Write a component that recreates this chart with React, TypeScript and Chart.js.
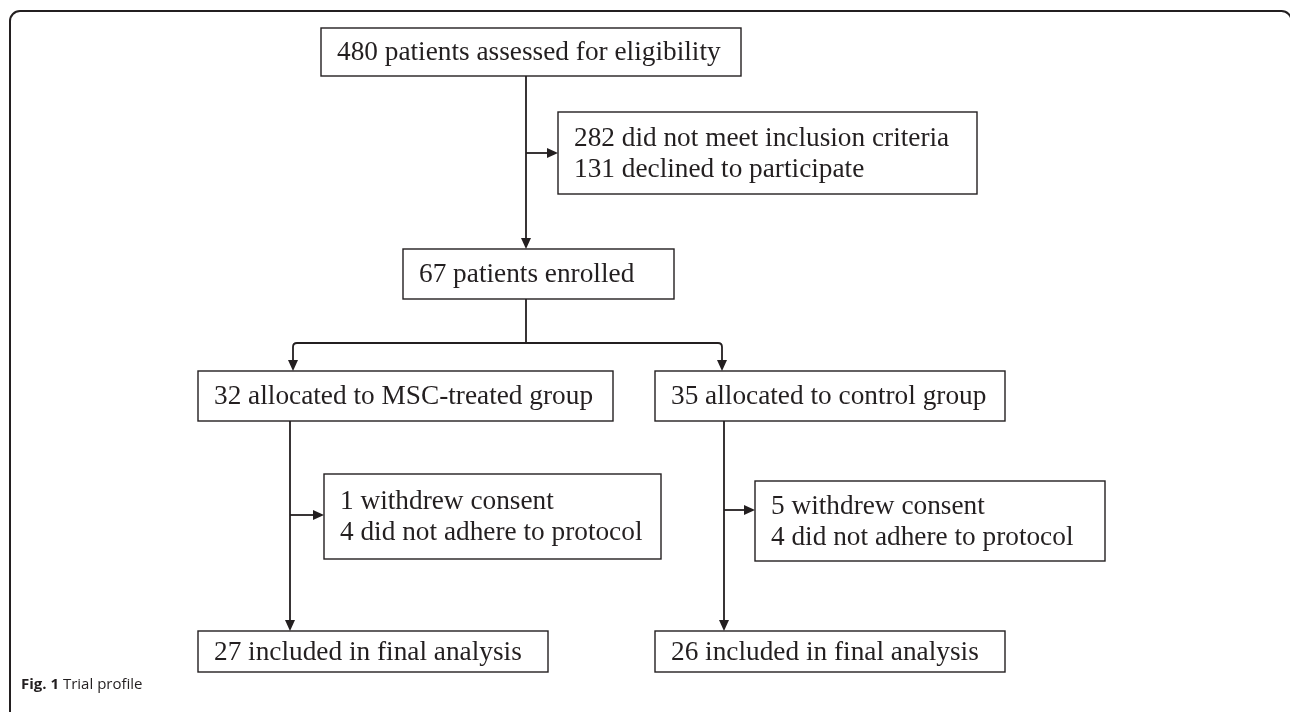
import React, { useEffect, useRef } from "react";
import { Chart, registerables } from "chart.js";
Chart.register(...registerables);

// ---- data ----
const screenedCount = [480];
const screenedLabel = ["patients assessed for eligibility"];
const excludedCounts = [282, 131];
const excludedReasons = ["did not meet inclusion criteria", "declined to participate"];
const enrolledCount = [67];
const enrolledLabel = ["patients enrolled"];
const groupNames = ["MSC-treated group", "control group"];
const allocatedCounts = [32, 35];
const withdrewCounts = [1, 5];
const nonAdherentCounts = [4, 4];
const analysedCounts = [27, 26];
const captionBold = "Fig. 1";
const captionText = "Trial profile";

// ---- layout (pixel space of the figure) ----
type Box = { x0: number; y0: number; x1: number; y1: number };
const L = {
  screen: { x0: 321, y0: 28, x1: 741, y1: 76 } as Box,
  excl: { x0: 558, y0: 112, x1: 977, y1: 194 } as Box,
  enrol: { x0: 403, y0: 249, x1: 674, y1: 299 } as Box,
  alloc: [
    { x0: 198, y0: 371, x1: 613, y1: 421 },
    { x0: 655, y0: 371, x1: 1005, y1: 421 },
  ] as Box[],
  lost: [
    { x0: 324, y0: 474, x1: 661, y1: 559 },
    { x0: 755, y0: 481, x1: 1105, y1: 561 },
  ] as Box[],
  final: [
    { x0: 198, y0: 631, x1: 548, y1: 672 },
    { x0: 655, y0: 631, x1: 1005, y1: 672 },
  ] as Box[],
  mainX: 526,
  exclArrowY: 153,
  branchY: 343,
  branchX: [293, 722],
  groupX: [290, 724],
  lostArrowY: [515, 510],
};

const INK = "#231f20";
const FONT_SIZE = 27.3;
const LINE_GAP = 31;

const flowPlugin = {
  id: "flow",
  afterDraw(chart: any) {
    const ctx: CanvasRenderingContext2D = chart.ctx;
    const sx = chart.scales.x;
    const sy = chart.scales.y;
    const px = (v: number) => sx.getPixelForValue(v);
    const py = (v: number) => sy.getPixelForValue(v);

    ctx.save();
    ctx.strokeStyle = INK;
    ctx.fillStyle = INK;

    // outer frame
    ctx.lineWidth = 2;
    ctx.beginPath();
    (ctx as any).roundRect(px(10), py(11), px(1291.5) - px(10), py(760) - py(11), 10);
    ctx.stroke();

    const font = `${FONT_SIZE}px "Liberation Serif", "Times New Roman", serif`;

    const drawBox = (b: Box, lines: string[]) => {
      ctx.lineWidth = 1.4;
      ctx.strokeRect(px(b.x0), py(b.y0), px(b.x1) - px(b.x0), py(b.y1) - py(b.y0));
      ctx.font = font;
      ctx.textAlign = "left";
      ctx.textBaseline = "middle";
      const cy = (b.y0 + b.y1) / 2;
      const n = lines.length;
      lines.forEach((t, i) => {
        const y = cy + (i - (n - 1) / 2) * LINE_GAP;
        ctx.fillText(t, px(b.x0 + 16), py(y) + 1);
      });
    };

    const head = (x: number, y: number, dir: "down" | "right") => {
      const len = 11, hw = 5;
      ctx.beginPath();
      if (dir === "down") {
        ctx.moveTo(px(x), py(y));
        ctx.lineTo(px(x - hw), py(y - len));
        ctx.lineTo(px(x + hw), py(y - len));
      } else {
        ctx.moveTo(px(x), py(y));
        ctx.lineTo(px(x - len), py(y - hw));
        ctx.lineTo(px(x - len), py(y + hw));
      }
      ctx.closePath();
      ctx.fill();
    };

    const line = (x0: number, y0: number, x1: number, y1: number) => {
      ctx.beginPath();
      ctx.moveTo(px(x0), py(y0));
      ctx.lineTo(px(x1), py(y1));
      ctx.stroke();
    };

    // boxes
    drawBox(L.screen, [`${screenedCount[0]} ${screenedLabel[0]}`]);
    drawBox(L.excl, excludedCounts.map((c, i) => `${c} ${excludedReasons[i]}`));
    drawBox(L.enrol, [`${enrolledCount[0]} ${enrolledLabel[0]}`]);
    groupNames.forEach((g, i) => {
      drawBox(L.alloc[i], [`${allocatedCounts[i]} allocated to ${g}`]);
      drawBox(L.lost[i], [
        `${withdrewCounts[i]} withdrew consent`,
        `${nonAdherentCounts[i]} did not adhere to protocol`,
      ]);
      drawBox(L.final[i], [`${analysedCounts[i]} included in final analysis`]);
    });

    // connectors
    ctx.lineWidth = 1.8;
    line(L.mainX, L.screen.y1, L.mainX, L.enrol.y0 - 8);
    head(L.mainX, L.enrol.y0, "down");
    line(L.mainX, L.exclArrowY, L.excl.x0 - 8, L.exclArrowY);
    head(L.excl.x0, L.exclArrowY, "right");

    line(L.mainX, L.enrol.y1, L.mainX, L.branchY);
    const r = 4;
    ctx.beginPath();
    ctx.moveTo(px(L.branchX[0]), py(L.alloc[0].y0 - 8));
    ctx.lineTo(px(L.branchX[0]), py(L.branchY + r));
    ctx.quadraticCurveTo(px(L.branchX[0]), py(L.branchY), px(L.branchX[0] + r), py(L.branchY));
    ctx.lineTo(px(L.branchX[1] - r), py(L.branchY));
    ctx.quadraticCurveTo(px(L.branchX[1]), py(L.branchY), px(L.branchX[1]), py(L.branchY + r));
    ctx.lineTo(px(L.branchX[1]), py(L.alloc[1].y0 - 8));
    ctx.stroke();
    head(L.branchX[0], L.alloc[0].y0, "down");
    head(L.branchX[1], L.alloc[1].y0, "down");

    [0, 1].forEach((i) => {
      const gx = L.groupX[i];
      line(gx, L.alloc[i].y1, gx, L.final[i].y0 - 8);
      head(gx, L.final[i].y0, "down");
      line(gx, L.lostArrowY[i], L.lost[i].x0 - 8, L.lostArrowY[i]);
      head(L.lost[i].x0, L.lostArrowY[i], "right");
    });

    // caption
    ctx.textBaseline = "middle";
    ctx.textAlign = "left";
    ctx.font = `bold 15px "Open Sans", "Noto Sans", sans-serif`;
    ctx.fillText(captionBold, px(21), py(685));
    const w = ctx.measureText(captionBold + " ").width;
    ctx.font = `15px "Open Sans", "Noto Sans", sans-serif`;
    ctx.fillText(captionText, px(21) + w, py(685));

    ctx.restore();
  },
};

export default function App() {
  const ref = useRef<HTMLCanvasElement | null>(null);
  useEffect(() => {
    document.body.style.margin = "0";
    const chart = new Chart(ref.current as HTMLCanvasElement, {
      type: "scatter",
      data: { datasets: [{ data: [], pointRadius: 0 }] },
      options: {
        animation: false,
        responsive: false,
        layout: { padding: 0 },
        plugins: { legend: { display: false }, tooltip: { enabled: false } },
        scales: {
          x: { type: "linear", min: 0, max: 1290, display: false },
          y: { type: "linear", min: 0, max: 712, reverse: true, display: false },
        },
      },
      plugins: [flowPlugin],
    });
    return () => chart.destroy();
  }, []);
  return (
    <div style={{ position: "absolute", left: 0, top: 0, width: 1290, height: 712, background: "#fff" }}>
      <canvas ref={ref} width={1290} height={712} style={{ display: "block" }} />
    </div>
  );
}
